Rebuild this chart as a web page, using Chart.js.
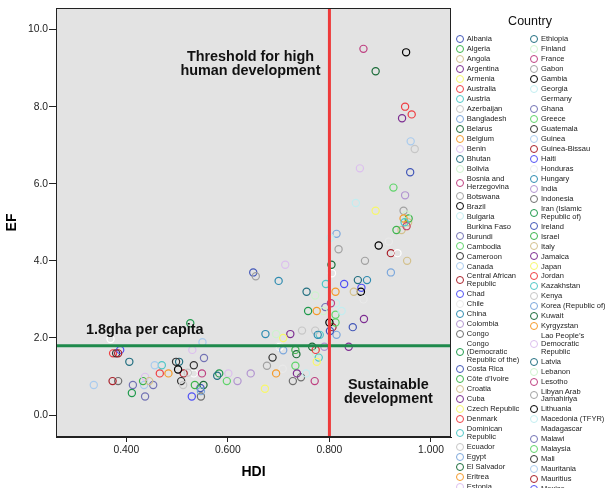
<!DOCTYPE html>
<html><head><meta charset="utf-8">
<script src="https://cdn.jsdelivr.net/npm/chart.js@4.4.1/dist/chart.umd.min.js"></script>
<style>
html,body{margin:0;padding:0;background:#fff;overflow:hidden;}
#wrap{position:relative;width:605px;height:488px;overflow:hidden;font-family:"Liberation Sans",Arial,sans-serif;}
#chart{position:absolute;left:0;top:0;}
#legend{position:absolute;left:452px;top:0;width:153px;height:488px;overflow:hidden;}
#legTitle{position:absolute;left:0;width:156px;top:14px;text-align:center;font-size:12.5px;line-height:15px;color:#111;}
.col{position:absolute;top:34px;}
.item{display:flex;align-items:center;}
.mk{width:6px;height:6px;border-radius:50%;border:1.2px solid #000;flex:none;box-sizing:content-box;}
.tx{font-size:7.5px;line-height:7.7px;padding:1.15px 0;color:#222;}
</style></head>
<body>
<div id="wrap">
<canvas id="chart" width="605" height="488"></canvas>
<div id="legend"><div id="legTitle">Country</div><div class="col" id="col1" style="left:4px"></div><div class="col" id="col2" style="left:78px"></div></div>
</div>
<script>
const countries = ["Albania","Algeria","Angola","Argentina","Armenia","Australia","Austria","Azerbaijan","Bangladesh","Belarus",
"Belgium","Benin","Bhutan","Bolivia","Bosnia and Herzegovina","Botswana","Brazil","Bulgaria","Burkina Faso","Burundi",
"Cambodia","Cameroon","Canada","Central African Republic","Chad","Chile","China","Colombia","Congo","Congo (Democratic Republic of the)",
"Costa Rica","Côte d’Ivoire","Croatia","Cuba","Czech Republic","Denmark","Dominican Republic","Ecuador","Egypt","El Salvador",
"Eritrea","Estonia","Ethiopia","Finland","France","Gabon","Gambia","Georgia","Germany","Ghana",
"Greece","Guatemala","Guinea","Guinea-Bissau","Haiti","Honduras","Hungary","India","Indonesia","Iran (Islamic Republic of)",
"Ireland","Israel","Italy","Jamaica","Japan","Jordan","Kazakhstan","Kenya","Korea (Republic of)","Kuwait",
"Kyrgyzstan","Lao People’s Democratic Republic","Latvia","Lebanon","Lesotho","Libyan Arab Jamahiriya","Lithuania","Macedonia (TFYR)","Madagascar","Malawi",
"Malaysia","Mali","Mauritania","Mauritius","Mexico","Moldova","Mongolia","Morocco","Mozambique","Myanmar",
"Namibia","Nepal","Netherlands","New Zealand","Nicaragua","Niger","Nigeria","Norway","Oman","Pakistan",
"Panama","Papua New Guinea","Paraguay","Peru","Philippines","Poland","Portugal","Romania","Russian Federation","Rwanda",
"Saudi Arabia","Senegal","Sierra Leone","Singapore","Slovakia","Slovenia","South Africa","Spain","Sri Lanka","Sudan",
"Swaziland","Sweden","Switzerland","Syrian Arab Republic","Tajikistan","Tanzania","Thailand","Togo","Trinidad and Tobago","Tunisia",
"Turkey","Turkmenistan","Uganda","Ukraine","United Arab Emirates","United Kingdom","United States","Uruguay","Uzbekistan","Venezuela",
"Viet Nam","Yemen","Zambia","Zimbabwe"];

const hdi = [0.801,0.733,0.445,0.868,0.775,0.962,0.948,0.746,0.547,0.804,
0.946,0.437,0.579,0.695,0.803,0.655,0.800,0.824,0.369,0.413,
0.598,0.533,0.960,0.384,0.388,0.867,0.777,0.790,0.547,0.411,
0.846,0.433,0.848,0.838,0.891,0.949,0.779,0.772,0.709,0.735,
0.483,0.860,0.406,0.952,0.952,0.677,0.502,0.754,0.934,0.553,
0.926,0.688,0.456,0.373,0.529,0.700,0.874,0.619,0.728,0.758,
0.959,0.932,0.942,0.736,0.952,0.773,0.793,0.521,0.921,0.891,
0.695,0.601,0.856,0.772,0.549,0.818,0.862,0.802,0.533,0.437,
0.812,0.380,0.550,0.806,0.829,0.708,0.700,0.645,0.384,0.583,
0.650,0.535,0.953,0.943,0.709,0.374,0.470,0.968,0.814,0.552,
0.812,0.530,0.755,0.773,0.771,0.870,0.897,0.813,0.805,0.453,
0.812,0.498,0.336,0.921,0.863,0.917,0.674,0.949,0.744,0.526,
0.546,0.956,0.955,0.723,0.673,0.466,0.781,0.512,0.814,0.766,
0.775,0.713,0.504,0.788,0.867,0.946,0.951,0.852,0.702,0.792,
0.733,0.508,0.435,0.513];

const ef = [2.18,1.69,0.88,2.49,1.38,7.80,5.00,2.19,0.62,3.90,
5.10,0.99,1.02,2.10,2.90,3.60,2.40,2.70,1.97,0.78,
0.88,1.29,7.10,1.60,1.69,3.00,2.08,1.77,0.48,0.57,
2.28,0.88,3.20,1.77,5.30,8.00,1.49,2.19,1.68,1.58,
1.08,6.40,1.38,5.20,4.90,1.28,1.18,1.08,4.20,1.48,
5.90,1.49,1.29,0.88,0.48,1.80,3.50,0.88,0.88,2.70,
6.30,4.80,4.80,1.08,4.90,1.69,3.40,1.10,3.70,8.92,
1.08,1.08,3.50,3.10,1.08,4.30,3.20,4.60,1.08,0.48,
2.40,1.60,1.89,2.28,3.40,1.20,3.48,1.08,0.88,1.08,
3.70,0.78,4.00,7.70,2.00,1.60,1.29,6.90,4.70,0.78,
3.20,1.69,3.20,1.60,0.88,4.00,4.40,2.90,3.68,0.78,
2.60,1.38,0.78,4.20,3.30,4.50,2.10,5.70,0.98,2.38,
0.70,5.10,5.00,2.10,0.68,1.08,2.08,0.78,2.08,1.77,
2.70,3.90,1.38,2.70,9.50,5.30,9.41,5.50,1.77,2.80,
1.28,0.88,0.78,1.08];

const palette = ["#4257b8","#3cb44b","#d3c08c","#7d2d91","#f7f76a","#ef3e42","#4fc7c7","#c6c6c6","#7ba7dc","#1a6b38",
"#f59a2a","#dcbfee","#226f80","#cdf3cd","#be3f80","#a1a1a1","#000000","#c2edf0","#ffffff","#7272b4",
"#5fd46a","#333333","#a9cbee","#a9202a","#5050f5","#e9e9e9","#2e8bb0","#b294d0","#6e6e6e","#1f9a4c"];

const hdiThreshold = 0.8;
const efThreshold = 1.8;
const xTicks = [0.4, 0.6, 0.8, 1.0];
const yTicks = [0, 2, 4, 6, 8, 10];
const xRange = [0.2616, 1.0394];
const yRange = [-0.57, 10.56];

const FONT = '"Liberation Sans", Arial, sans-serif';
Chart.defaults.font.family = FONT;

const pointSets = countries.map((name, i) => ({
  label: name,
  data: [{x: hdi[i], y: ef[i]}],
  borderColor: palette[i % palette.length],
  backgroundColor: 'rgba(0,0,0,0)',
  pointRadius: 3.6, pointHoverRadius: 3.6,
  pointBorderWidth: 1.2, pointHoverBorderWidth: 1.2,
  order: 1
}));
const refSets = [
  {label: 'hdiRef', isRef: true, showLine: true, data: [{x: hdiThreshold, y: yRange[0]}, {x: hdiThreshold, y: yRange[1]}],
   borderColor: '#ee3a3a', borderWidth: 3, pointRadius: 0, order: 0},
  {label: 'efRef', isRef: true, showLine: true, data: [{x: xRange[0], y: efThreshold}, {x: xRange[1], y: efThreshold}],
   borderColor: '#1f8a4c', borderWidth: 3, pointRadius: 0, order: 0}
];

const framePlugin = {
  id: 'frame',
  beforeDraw(chart) {
    const {ctx, chartArea: a} = chart;
    ctx.save(); ctx.fillStyle = '#e3e3e3';
    ctx.fillRect(a.left, a.top, a.right - a.left, a.bottom - a.top);
    ctx.restore();
  },
  afterDraw(chart) {
    const {ctx, chartArea: a} = chart;
    ctx.save(); ctx.strokeStyle = '#222'; ctx.lineWidth = 1;
    ctx.strokeRect(Math.round(a.left) + 0.5, Math.round(a.top) + 0.5, Math.round(a.right - a.left) - 1, Math.round(a.bottom - a.top) - 1);
    ctx.restore();
  }
};

const notesPlugin = {
  id: 'notes',
  afterDatasetsDraw(chart) {
    const {ctx, scales: {x, y}} = chart;
    ctx.save();
    ctx.fillStyle = '#111';
    ctx.font = 'bold 14.4px ' + FONT;
    ctx.textBaseline = 'middle';
    ctx.textAlign = 'center';
    ctx.fillText('Threshold for high', x.getPixelForValue(0.6445), y.getPixelForValue(9.295));
    ctx.fillText('human development', x.getPixelForValue(0.6445), y.getPixelForValue(8.924));
    ctx.fillText('Sustainable', x.getPixelForValue(0.916), y.getPixelForValue(0.778));
    ctx.fillText('development', x.getPixelForValue(0.916), y.getPixelForValue(0.407));
    ctx.textAlign = 'left';
    ctx.fillText('1.8gha per capita', x.getPixelForValue(0.3207), y.getPixelForValue(2.205));
    ctx.restore();
  }
};

const legendPlugin = {
  id: 'htmlLegend',
  afterUpdate(chart) {
    const c1 = document.getElementById('col1'), c2 = document.getElementById('col2');
    c1.innerHTML = ''; c2.innerHTML = '';
    let n = 0;
    chart.data.datasets.forEach(ds => {
      if (ds.isRef) return;
      const item = document.createElement('div'); item.className = 'item';
      const mk = document.createElement('span'); mk.className = 'mk';
      mk.style.borderColor = ds.borderColor;
      const tx = document.createElement('span'); tx.className = 'tx'; tx.textContent = ds.label;
      const second = n >= 42;
      mk.style.marginRight = second ? '3px' : '2.8px';
      tx.style.width = second ? '67.5px' : '58px';
      item.appendChild(mk); item.appendChild(tx);
      (second ? c2 : c1).appendChild(item);
      n++;
    });
  }
};

new Chart(document.getElementById('chart'), {
  type: 'scatter',
  data: {datasets: [...pointSets, ...refSets]},
  options: {
    responsive: false, animation: false, events: [],
    layout: {padding: {left: 0, right: 154, top: 8, bottom: 0}},
    plugins: {legend: {display: false}, tooltip: {enabled: false}},
    scales: {
      x: {
        type: 'linear', min: xRange[0], max: xRange[1],
        afterFit: s => { s.height = 51; },
        afterBuildTicks: s => { s.ticks = xTicks.map(v => ({value: v})); },
        ticks: {callback: v => Number(v).toFixed(3), font: {size: 10.3}, color: '#222', padding: 2, maxRotation: 0},
        grid: {drawOnChartArea: false, tickLength: 5, color: '#222'},
        border: {color: '#222'},
        title: {display: true, text: 'HDI', font: {size: 14, weight: 'bold'}, color: '#000', padding: {top: 0, bottom: 7}}
      },
      y: {
        type: 'linear', min: yRange[0], max: yRange[1],
        afterFit: s => { s.width = 56; },
        afterBuildTicks: s => { s.ticks = yTicks.map(v => ({value: v})); },
        ticks: {callback: v => Number(v).toFixed(1), font: {size: 10.3}, color: '#222', padding: 1},
        grid: {drawOnChartArea: false, tickLength: 7, color: '#222'},
        border: {color: '#222'},
        title: {display: true, text: 'EF', font: {size: 14, weight: 'bold'}, color: '#000', padding: {top: 4, bottom: 0}}
      }
    }
  },
  plugins: [framePlugin, notesPlugin, legendPlugin]
});
</script>
</body></html>
